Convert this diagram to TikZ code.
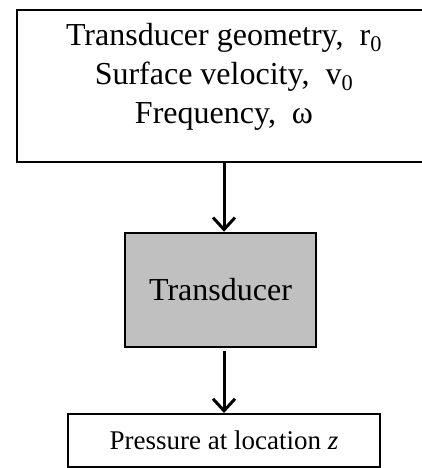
\documentclass[tikz,border=0pt]{standalone}
\usepackage{fontspec}
\setmainfont{Liberation Serif}
\usetikzlibrary{arrows.meta}
\begin{document}
\begin{tikzpicture}[x=1pt,y=-1pt,
  box/.style={draw=black, line width=2pt, inner sep=0pt, align=center},
  arr/.style={line width=3pt, -{Straight Barb[length=12pt,width=22pt]}},
]
\clip (0,0) rectangle (422,468);
\node[box, minimum width=414pt, minimum height=152pt] (params) at (224,86) {};
\node[align=center, inner sep=0pt, font=\fontsize{32}{39}\selectfont] (paramtext) at (224,77) {Transducer geometry,~ r\textsubscript{0}\\Surface velocity,~ v\textsubscript{0}\\Frequency,~ ω};
\node[box, line width=2.5pt, fill={rgb,255:red,192;green,192;blue,192}, minimum width=191pt, minimum height=114pt, font=\fontsize{32}{40}\selectfont] (trans) at (220.5,290) {Transducer};
\node[box, minimum width=312pt, minimum height=53pt, font=\fontsize{27}{32}\selectfont] (out) at (224,440.5) {Pressure at location \textit{z}};
\draw[arr] (params.south) -- (params.south |- trans.north);
\draw[arr, shorten <=3pt] (out.north |- trans.south) -- (out.north);
\end{tikzpicture}
\end{document}
